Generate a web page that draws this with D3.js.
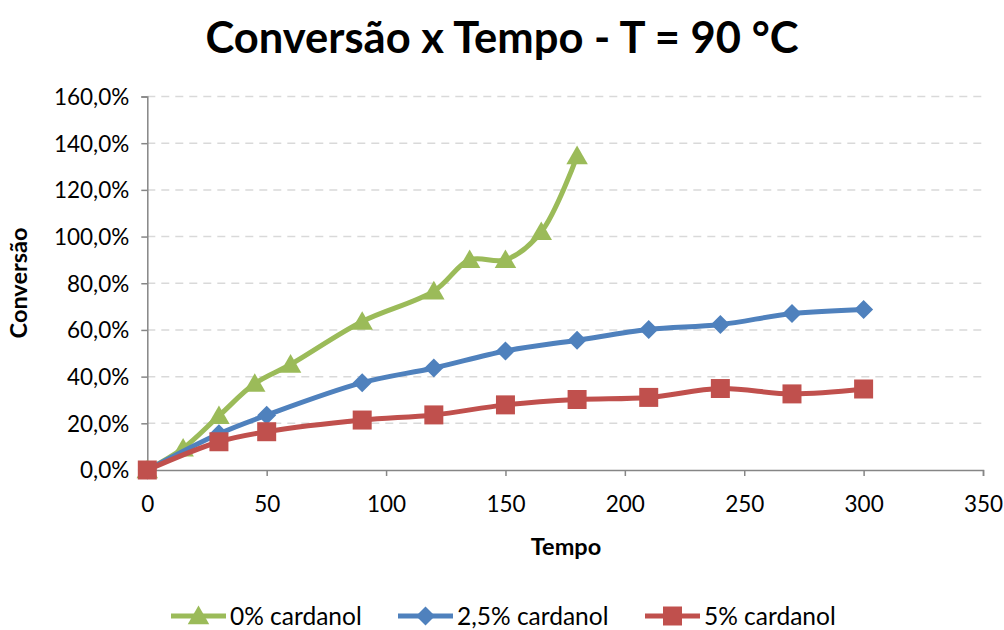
<!DOCTYPE html>
<html>
<head>
<meta charset="utf-8">
<script src="https://cdn.jsdelivr.net/npm/d3@7"></script>
<style>
  html, body { margin: 0; padding: 0; background: #fff; }
  svg { display: block; }
  text { font-family: Lato, "Open Sans", sans-serif; fill: #000; }
</style>
</head>
<body>
<svg id="chart" width="1004" height="630"></svg>
<script>
// Reaction time (min) at which each sample was taken
const tempo0 = [0, 15, 30, 45, 60, 90, 120, 135, 150, 165, 180];
const tempo25 = [0, 30, 50, 90, 120, 150, 180, 210, 240, 270, 300];
const tempo5 = [0, 30, 50, 90, 120, 150, 180, 210, 240, 270, 300];

// Conversion (fraction) for each cardanol content
const conv0 = [0, 0.093, 0.232, 0.37, 0.452, 0.636, 0.766, 0.9, 0.9, 1.02, 1.345];
const conv25 = [0, 0.155, 0.235, 0.374, 0.437, 0.51, 0.556, 0.602, 0.623, 0.67, 0.688];
const conv5 = [0, 0.121, 0.164, 0.214, 0.236, 0.279, 0.302, 0.311, 0.349, 0.326, 0.347];

const seriesNames = ["0% cardanol", "2,5% cardanol", "5% cardanol"];
const xTicks = [0, 50, 100, 150, 200, 250, 300, 350];
const yTicks = [0, 0.2, 0.4, 0.6, 0.8, 1.0, 1.2, 1.4, 1.6];

const colors = ["#9BBB59", "#4F81BD", "#C0504D"];
const shapes = ["triangle", "diamond", "square"];

const series = [
  { name: seriesNames[0], t: tempo0, v: conv0, color: colors[0], shape: shapes[0] },
  { name: seriesNames[1], t: tempo25, v: conv25, color: colors[1], shape: shapes[1] },
  { name: seriesNames[2], t: tempo5, v: conv5, color: colors[2], shape: shapes[2] }
];

const svg = d3.select("#chart");

const x = d3.scaleLinear().domain([0, 350]).range([147.3, 983]);
const y = d3.scaleLinear().domain([0, 1.6]).range([470, 96.5]);

const pct = d => d3.format(".1f")(d * 100).replace(".", ",") + "%";

// Title
svg.append("text")
  .attr("x", 502).attr("y", 53)
  .attr("text-anchor", "middle")
  .style("font-size", "43.5px").style("font-weight", "bold")
  .text("Conversão x Tempo - T = 90 °C");

// Dashed horizontal gridlines
svg.append("g").selectAll("line")
  .data(yTicks.filter(d => d > 0))
  .join("line")
  .attr("x1", x(0)).attr("x2", x(350))
  .attr("y1", d => y(d)).attr("y2", d => y(d))
  .attr("stroke", "#D9D9D9").attr("stroke-width", 1.5)
  .attr("stroke-dasharray", "8,6");

// Y axis
const yAxis = svg.append("g")
  .attr("transform", `translate(${x(0)},0)`)
  .call(d3.axisLeft(y).tickValues(yTicks).tickFormat(pct).tickSize(6).tickPadding(12));
// X axis
const xAxis = svg.append("g")
  .attr("transform", `translate(0,${y(0)})`)
  .call(d3.axisBottom(x).tickValues(xTicks).tickFormat(d3.format("d")).tickSize(6).tickPadding(20));

[yAxis, xAxis].forEach(g => {
  g.select(".domain").attr("stroke", "#868686").attr("stroke-width", 1.5);
  g.selectAll(".tick line").attr("stroke", "#868686").attr("stroke-width", 1.5);
  g.selectAll(".tick text").style("font-size", "22.5px").style("font-family", "Lato, sans-serif").attr("fill", "#000");
});
yAxis.selectAll(".tick text").attr("dy", "0.35em");

// Axis titles
svg.append("text")
  .attr("x", 566).attr("y", 555)
  .attr("text-anchor", "middle")
  .style("font-size", "23.5px").style("font-weight", "bold")
  .text("Tempo");
svg.append("text")
  .attr("transform", "translate(27,283) rotate(-90)")
  .attr("text-anchor", "middle")
  .style("font-size", "23.5px").style("font-weight", "bold")
  .text("Conversão");

// Marker symbols
function markerPath(shape) {
  if (shape === "triangle") return d3.symbol(d3.symbolTriangle, 200)();
  if (shape === "diamond") return "M0,-9.5L9.5,0L0,9.5L-9.5,0Z";
  return "M-9.5,-9.5H9.5V9.5H-9.5Z";
}

const line = d3.line()
  .x(d => x(d[0])).y(d => y(d[1]))
  .curve(d3.curveCatmullRom.alpha(0.5));

const plot = svg.append("g");
series.forEach(s => {
  const pts = s.t.map((t, i) => [t, s.v[i]]);
  const g = plot.append("g");
  g.append("path")
    .attr("d", line(pts))
    .attr("fill", "none")
    .attr("stroke", s.color)
    .attr("stroke-width", 5)
    .attr("stroke-linejoin", "round");
  g.selectAll("path.m")
    .data(pts)
    .join("path")
    .attr("class", "m")
    .attr("transform", d => `translate(${x(d[0])},${y(d[1]) + (s.shape === "triangle" ? 2 : 0)})`)
    .attr("d", markerPath(s.shape))
    .attr("fill", s.color);
});

// Legend
const legendX = [171, 398, 645];
const legend = svg.append("g");
series.forEach((s, i) => {
  const g = legend.append("g").attr("transform", `translate(${legendX[i]},616)`);
  g.append("line").attr("x1", 0).attr("x2", 55).attr("y1", 0).attr("y2", 0)
    .attr("stroke", s.color).attr("stroke-width", 5);
  g.append("path")
    .attr("transform", `translate(27.5,${s.shape === "triangle" ? 2 : 0})`)
    .attr("d", markerPath(s.shape)).attr("fill", s.color);
  g.append("text").attr("x", 59).attr("y", 0).attr("dy", "0.35em")
    .style("font-size", "24.5px").text(s.name);
});
</script>
</body>
</html>
